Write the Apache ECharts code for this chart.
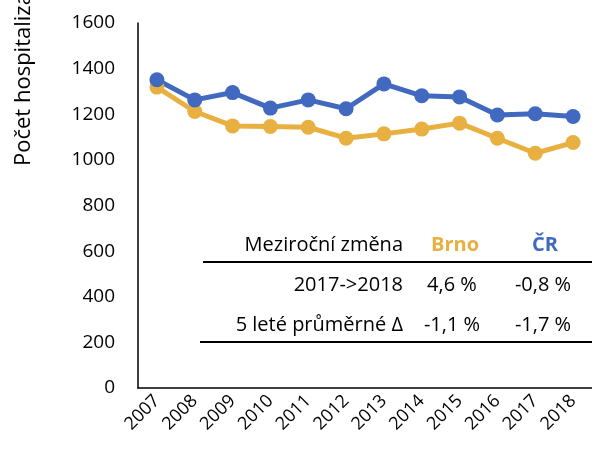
<!DOCTYPE html>
<html>
<head>
<meta charset="utf-8">
<script src="https://cdn.jsdelivr.net/npm/echarts@6/dist/echarts.min.js"></script>
<style>
  html, body { margin: 0; padding: 0; background: #fff; }
  #chart { width: 592px; height: 454px; }
</style>
</head>
<body>
<div id="chart"></div>
<script>
const years = ['2007', '2008', '2009', '2010', '2011', '2012', '2013', '2014', '2015', '2016', '2017', '2018'];
const brno = [1319, 1212, 1149, 1146, 1143, 1095, 1114, 1135, 1161, 1095, 1029, 1076];
const cr = [1351, 1263, 1295, 1227, 1263, 1224, 1333, 1281, 1276, 1197, 1202, 1190];
const yTicks = [0, 200, 400, 600, 800, 1000, 1200, 1400, 1600];

const tableHeader = ['Meziroční změna', 'Brno', 'ČR'];
const tableRowLabels = ['2017->2018', '5 leté průměrné Δ'];
const tableBrno = ['4,6 %', '-1,1 %'];
const tableCr = ['-0,8 %', '-1,7 %'];

const BLUE = '#4169c0';
const GOLD = '#e8b040';
const FONT = 'Open Sans';
const TFONT = '20px "Open Sans"';

const chart = echarts.init(document.getElementById('chart'));

const graphics = [
  {
    type: 'text', x: 13, y: 166, rotation: Math.PI / 2,
    style: { text: 'Počet hospitalizací na 100 000 obyvatel', font: '22px "Open Sans"', fill: '#000', textAlign: 'left', textVerticalAlign: 'top' }
  },
  { type: 'text', x: 403, y: 245, style: { text: tableHeader[0], font: TFONT, fill: '#000', textAlign: 'right', textVerticalAlign: 'middle' } },
  { type: 'text', x: 455, y: 245, style: { text: tableHeader[1], font: 'bold 20px "Open Sans"', fill: GOLD, textAlign: 'center', textVerticalAlign: 'middle' } },
  { type: 'text', x: 545, y: 245, style: { text: tableHeader[2], font: 'bold 20px "Open Sans"', fill: BLUE, textAlign: 'center', textVerticalAlign: 'middle' } },
  { type: 'line', shape: { x1: 203, y1: 262, x2: 592, y2: 262 }, style: { stroke: '#000', lineWidth: 2 } },
  { type: 'line', shape: { x1: 200, y1: 342, x2: 592, y2: 342 }, style: { stroke: '#000', lineWidth: 2 } }
];
tableRowLabels.forEach((lab, i) => {
  const y = 285 + i * 40;
  graphics.push(
    { type: 'text', x: 403, y: y, style: { text: lab, font: TFONT, fill: '#000', textAlign: 'right', textVerticalAlign: 'middle' } },
    { type: 'text', x: 452, y: y, style: { text: tableBrno[i], font: TFONT, fill: '#000', textAlign: 'center', textVerticalAlign: 'middle' } },
    { type: 'text', x: 543, y: y, style: { text: tableCr[i], font: TFONT, fill: '#000', textAlign: 'center', textVerticalAlign: 'middle' } }
  );
});

chart.setOption({
  animation: false,
  textStyle: { fontFamily: FONT },
  grid: { left: 138, right: -6, top: 23, bottom: 66 },
  xAxis: {
    type: 'category',
    data: years,
    boundaryGap: true,
    axisLine: { lineStyle: { color: '#000', width: 1.5 } },
    axisTick: { show: false },
    axisLabel: { rotate: 45, color: '#000', fontSize: 18, margin: 10, interval: 0 }
  },
  yAxis: {
    type: 'value',
    min: yTicks[0],
    max: yTicks[yTicks.length - 1],
    interval: 200,
    axisLine: { show: true, lineStyle: { color: '#000', width: 1.5 } },
    axisTick: { show: false },
    splitLine: { show: false },
    axisLabel: { color: '#000', fontSize: 19, margin: 23, formatter: v => String(v) }
  },
  series: [
    {
      name: 'Brno', type: 'line', data: brno,
      symbol: 'circle', symbolSize: 15,
      lineStyle: { color: GOLD, width: 5 },
      itemStyle: { color: GOLD }
    },
    {
      name: 'ČR', type: 'line', data: cr,
      symbol: 'circle', symbolSize: 15,
      lineStyle: { color: BLUE, width: 5 },
      itemStyle: { color: BLUE }
    }
  ],
  graphic: graphics
});
</script>
</body>
</html>
